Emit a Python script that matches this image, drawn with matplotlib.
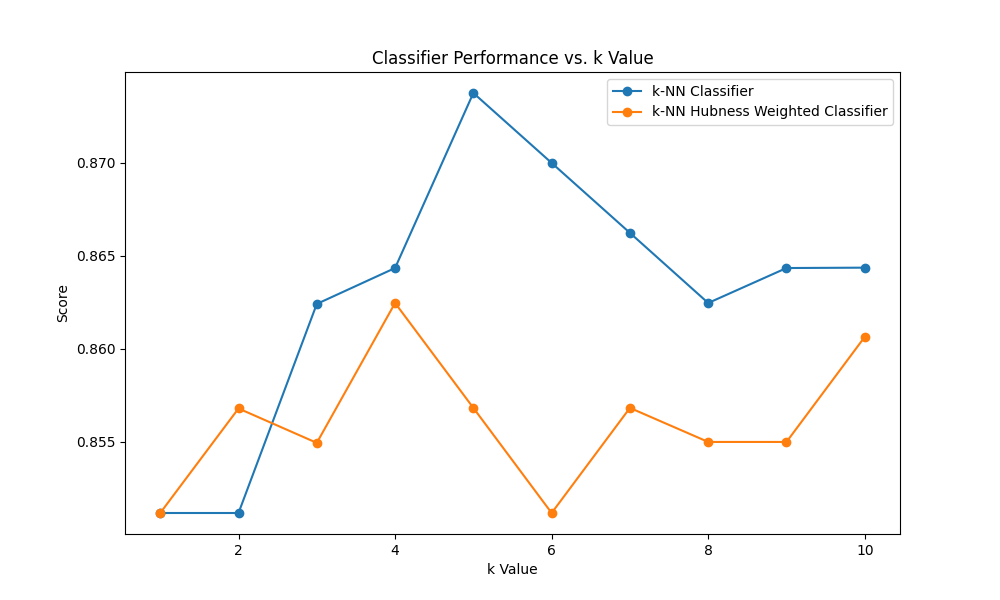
import matplotlib
matplotlib.use("Agg")
import matplotlib.pyplot as plt

k_values = [1, 2, 3, 4, 5, 6, 7, 8, 9, 10]
knn_scores = [0.85118, 0.85118, 0.86242, 0.86435, 0.87376, 0.87000, 0.86624, 0.86247, 0.86435, 0.86437]
hubness_scores = [0.85118, 0.85680, 0.85495, 0.86247, 0.85683, 0.85118, 0.85683, 0.85500, 0.85500, 0.86065]

fig, ax = plt.subplots(figsize=(10, 6), dpi=100)
ax.plot(k_values, knn_scores, marker='o', label='k-NN Classifier')
ax.plot(k_values, hubness_scores, marker='o', label='k-NN Hubness Weighted Classifier')
ax.set_title('Classifier Performance vs. k Value')
ax.set_xlabel('k Value')
ax.set_ylabel('Score')
ax.legend()
fig.savefig('out.png')
